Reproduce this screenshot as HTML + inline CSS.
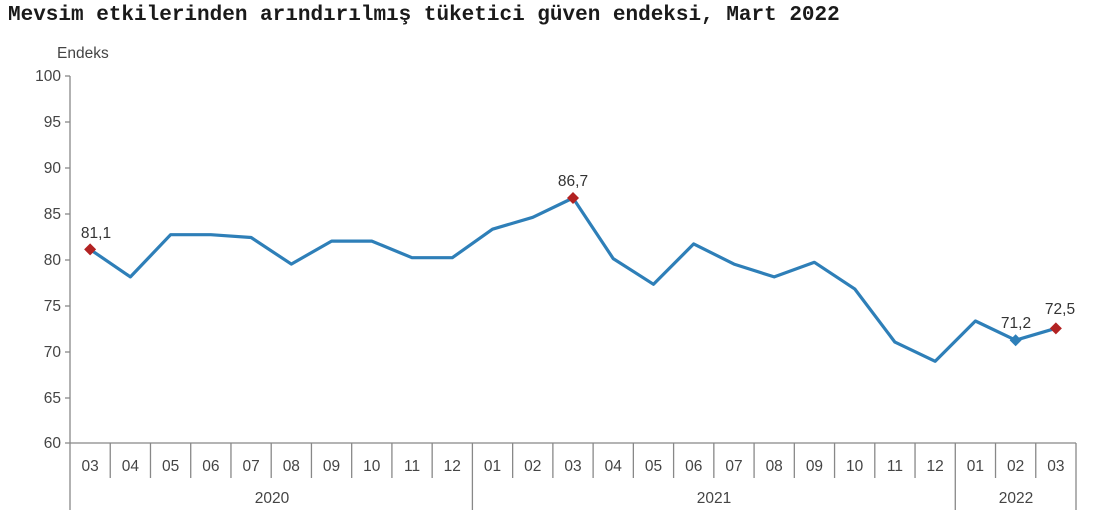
<!DOCTYPE html>
<html><head><meta charset="utf-8"><style>
html,body{margin:0;padding:0;background:#fff;width:1117px;height:526px;overflow:hidden}
</style></head><body>
<svg width="1117" height="526" xmlns="http://www.w3.org/2000/svg">
<text x="8" y="20" font-family="Liberation Mono, monospace" font-weight="bold" font-size="21" fill="#1a1a1a">Mevsim etkilerinden arındırılmış tüketici güven endeksi, Mart 2022</text>
<g font-family="Liberation Sans, sans-serif" font-size="15.5" fill="#444">
<text x="57" y="58">Endeks</text>
<g text-anchor="end">
<text x="61" y="81">100</text><text x="61" y="127">95</text><text x="61" y="173">90</text><text x="61" y="219">85</text><text x="61" y="265">80</text><text x="61" y="311">75</text><text x="61" y="357">70</text><text x="61" y="403">65</text><text x="61" y="448">60</text>
</g>
</g>
<g stroke="#888" stroke-width="1.3" fill="none">
<line x1="70" y1="76" x2="70" y2="510"/>
<line x1="65" y1="76" x2="70" y2="76"/><line x1="65" y1="122" x2="70" y2="122"/><line x1="65" y1="168" x2="70" y2="168"/><line x1="65" y1="214" x2="70" y2="214"/><line x1="65" y1="260" x2="70" y2="260"/><line x1="65" y1="306" x2="70" y2="306"/><line x1="65" y1="352" x2="70" y2="352"/><line x1="65" y1="398" x2="70" y2="398"/>
<line x1="65" y1="443" x2="1076" y2="443"/>
<g id="seps"></g>
</g>
<g id="xl" font-family="Liberation Sans, sans-serif" font-size="15.5" fill="#444" text-anchor="middle"></g>
<g font-family="Liberation Sans, sans-serif" font-size="15.5" fill="#444" text-anchor="middle">
<text x="272" y="503">2020</text><text x="714" y="503">2021</text><text x="1016" y="503">2022</text>
</g>
<polyline id="ln" fill="none" stroke="#2e7fb8" stroke-width="3.2" stroke-linejoin="round"/>
<g id="mk"></g>
<g font-family="Liberation Sans, sans-serif" font-size="15.5" fill="#333" text-anchor="middle">
<text x="96" y="238">81,1</text><text x="573" y="186">86,7</text><text x="1016" y="328">71,2</text><text x="1060" y="314">72,5</text>
</g>
</svg>
<script>
var d=[81.1,78.1,82.7,82.7,82.4,79.5,82.0,82.0,80.2,80.2,83.3,84.6,86.7,80.1,77.3,81.7,79.5,78.1,79.7,76.8,71.0,68.9,73.3,71.2,72.5];
var lab=["03","04","05","06","07","08","09","10","11","12","01","02","03","04","05","06","07","08","09","10","11","12","01","02","03"];
var w=40.24,pts=[],ns="http://www.w3.org/2000/svg";
function X(i){return 70+w*(i+0.5)}function Y(v){return 443-(v-60)*9.175}
var seps=document.getElementById('seps'),xl=document.getElementById('xl');
for(var i=0;i<25;i++){pts.push(X(i).toFixed(1)+","+Y(d[i]).toFixed(1));
var t=document.createElementNS(ns,'text');t.setAttribute('x',X(i));t.setAttribute('y',471);t.textContent=lab[i];xl.appendChild(t);
var xs=70+w*(i+1),l=document.createElementNS(ns,'line');l.setAttribute('x1',xs);l.setAttribute('x2',xs);l.setAttribute('y1',443);l.setAttribute('y2',(i==9||i==21||i==24)?510:478);seps.appendChild(l);}
document.getElementById('ln').setAttribute('points',pts.join(' '));
var mk=document.getElementById('mk');
[[0,'#b22222'],[12,'#b22222'],[23,'#2e7fb8'],[24,'#b22222']].forEach(function(m){var x=X(m[0]),y=Y(d[m[0]]),p=document.createElementNS(ns,'polygon');
p.setAttribute('points',x+','+(y-6)+' '+(x+6)+','+y+' '+x+','+(y+6)+' '+(x-6)+','+y);p.setAttribute('fill',m[1]);mk.appendChild(p);});
</script>
</body></html>
